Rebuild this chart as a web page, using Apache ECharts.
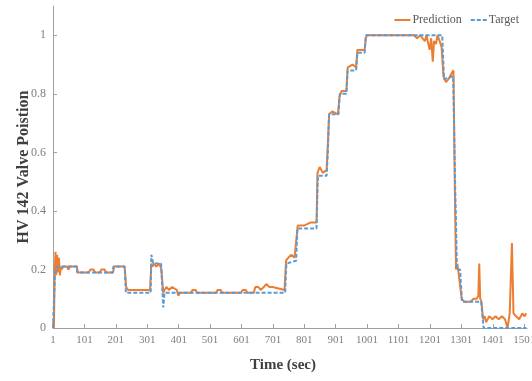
<!DOCTYPE html>
<html>
<head>
<meta charset="utf-8">
<script src="https://cdn.jsdelivr.net/npm/echarts@6/dist/echarts.min.js"></script>
<style>
html,body{margin:0;padding:0;background:#fff;}
#chart{width:532px;height:381px;}
</style>
</head>
<body>
<div id="chart"></div>
<script>
// Tick labels
const xTicks = [1, 101, 201, 301, 401, 501, 601, 701, 801, 901, 1001, 1101, 1201, 1301, 1401, 1501];
const yTicks = [0, 0.2, 0.4, 0.6, 0.8, 1];
const seriesNames = ['Prediction', 'Target'];

// Target (time sec, valve position)
const targetTime = [1, 5, 7, 15, 77, 78, 192, 193, 229, 233, 312, 314, 320, 345, 352, 356, 740, 744, 775, 779, 840, 844, 872, 876, 880, 910, 914, 935, 939, 966, 970, 993, 997, 1240, 1246, 1275, 1281, 1287, 1297, 1303, 1364, 1372, 1508];
const targetValue = [0.0, 0.0, 0.18, 0.21, 0.21, 0.19, 0.19, 0.21, 0.21, 0.12, 0.12, 0.25, 0.22, 0.22, 0.07, 0.12, 0.12, 0.22, 0.23, 0.34, 0.34, 0.52, 0.52, 0.6, 0.73, 0.73, 0.8, 0.8, 0.88, 0.88, 0.94, 0.94, 1.0, 1.0, 0.85, 0.86, 0.5, 0.2, 0.2, 0.09, 0.09, 0.0, 0.0];

// Prediction (time sec, valve position)
const predTime = [1, 4, 6, 9, 11, 14, 17, 20, 23, 26, 29, 33, 45, 50, 55, 77, 80, 115, 120, 130, 135, 150, 155, 165, 170, 192, 196, 229, 234, 240, 310, 314, 318, 322, 330, 340, 346, 352, 356, 362, 370, 380, 395, 400, 405, 440, 445, 455, 460, 520, 525, 535, 540, 600, 605, 615, 620, 640, 645, 655, 662, 672, 680, 690, 700, 738, 743, 750, 760, 770, 776, 780, 800, 820, 840, 843, 850, 860, 872, 876, 880, 890, 908, 913, 920, 935, 939, 955, 966, 970, 993, 997, 1000, 1150, 1160, 1170, 1185, 1190, 1200, 1205, 1210, 1214, 1220, 1225, 1232, 1238, 1244, 1252, 1260, 1270, 1276, 1280, 1284, 1288, 1292, 1296, 1302, 1310, 1330, 1340, 1350, 1355, 1358, 1361, 1365, 1370, 1375, 1380, 1390, 1400, 1410, 1420, 1430, 1440, 1448, 1455, 1462, 1467, 1475, 1485, 1495, 1502, 1508];
const predValue = [0.02, 0.0, 0.17, 0.26, 0.18, 0.25, 0.19, 0.24, 0.18, 0.21, 0.2, 0.21, 0.21, 0.2, 0.21, 0.21, 0.19, 0.19, 0.2, 0.2, 0.19, 0.19, 0.2, 0.2, 0.19, 0.19, 0.21, 0.21, 0.14, 0.13, 0.13, 0.22, 0.21, 0.22, 0.21, 0.22, 0.2, 0.12, 0.13, 0.14, 0.13, 0.14, 0.13, 0.11, 0.12, 0.12, 0.13, 0.13, 0.12, 0.12, 0.13, 0.13, 0.12, 0.12, 0.13, 0.13, 0.12, 0.12, 0.14, 0.14, 0.13, 0.14, 0.15, 0.14, 0.14, 0.13, 0.23, 0.24, 0.25, 0.24, 0.24, 0.35, 0.35, 0.36, 0.36, 0.53, 0.55, 0.53, 0.54, 0.63, 0.73, 0.74, 0.73, 0.79, 0.81, 0.81, 0.89, 0.9, 0.89, 0.95, 0.95, 0.99, 1.0, 1.0, 0.99, 1.0, 0.98, 1.0, 0.95, 0.99, 0.91, 0.98, 0.97, 1.0, 0.98, 0.96, 0.86, 0.84, 0.85, 0.87, 0.88, 0.5, 0.2, 0.22, 0.19, 0.19, 0.1, 0.09, 0.09, 0.1, 0.1, 0.11, 0.22, 0.1, 0.09, 0.03, 0.04, 0.02, 0.04, 0.03, 0.04, 0.03, 0.04, 0.03, 0.0, 0.05, 0.29, 0.05, 0.04, 0.03, 0.05, 0.04, 0.05];

const zip = (xs, ys) => xs.map((x, i) => [x, ys[i]]);

const serif = "'Liberation Serif', 'Times New Roman', serif";
const axisGray = '#a0a0a0';
const labelGray = '#7f7f7f';

const chart = echarts.init(document.getElementById('chart'), null, {renderer: 'canvas'});
chart.setOption({
  animation: false,
  backgroundColor: '#fff',
  grid: {left: 53, right: 5, top: 6, bottom: 53, containLabel: false, outerBoundsMode: 'none'},
  legend: {
    right: 8, top: 9,
    itemWidth: 16, itemHeight: 8, itemGap: 8,
    itemStyle: {opacity: 0},
    textStyle: {fontFamily: serif, fontSize: 12, color: '#595959', padding: [0, 0, 0, -3]},
    data: seriesNames
  },
  xAxis: {
    type: 'value', min: 1, max: 1510,
    name: 'Time (sec)', nameLocation: 'middle', nameGap: 30, nameMoveOverlap: false,
    nameTextStyle: {fontFamily: serif, fontSize: 15, fontWeight: 'bold', color: '#404040', padding: [0, 14, 0, 0]},
    axisLine: {show: true, lineStyle: {color: axisGray, width: 1}},
    axisTick: {show: true, inside: true, length: 4, lineStyle: {color: axisGray}, customValues: xTicks},
    axisLabel: {fontFamily: serif, fontSize: 11, color: labelGray, margin: 7, customValues: xTicks,
      formatter: v => String(v)},
    splitLine: {show: false}
  },
  yAxis: {
    type: 'value', min: 0, max: 1.1,
    name: 'HV 142 Valve Poistion', nameLocation: 'middle', nameGap: 21, nameRotate: 90, nameMoveOverlap: false,
    nameTextStyle: {fontFamily: serif, fontSize: 16, fontWeight: 'bold', color: '#404040'},
    axisLine: {show: true, lineStyle: {color: axisGray, width: 1}},
    axisTick: {show: true, inside: true, length: 4, lineStyle: {color: axisGray}, customValues: yTicks},
    axisLabel: {fontFamily: serif, fontSize: 12, color: labelGray, margin: 7, customValues: yTicks,
      formatter: v => String(Math.round(v * 10) / 10)},
    splitLine: {show: false}
  },
  series: [
    {
      name: 'Prediction', type: 'line', showSymbol: false, symbol: 'none',
      data: zip(predTime, predValue),
      lineStyle: {color: '#ED7D31', width: 2},
      itemStyle: {color: '#ED7D31'},
      z: 2
    },
    {
      name: 'Target', type: 'line', showSymbol: false, symbol: 'none',
      data: zip(targetTime, targetValue),
      lineStyle: {color: '#5B9BD5', width: 2, type: [4, 2]},
      itemStyle: {color: '#5B9BD5'},
      z: 3
    }
  ]
});
</script>
</body>
</html>
